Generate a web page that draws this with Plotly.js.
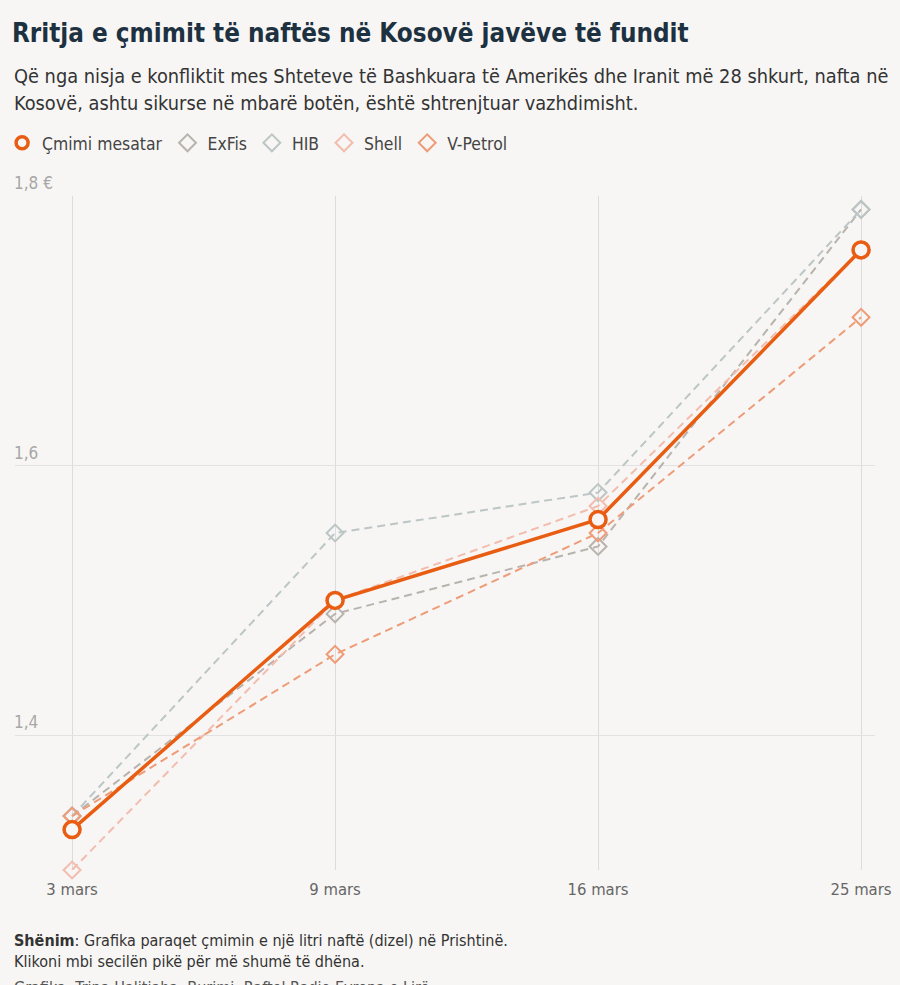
<!DOCTYPE html>
<html>
<head>
<meta charset="utf-8">
<script src="https://cdn.plot.ly/plotly-3.0.1.min.js"></script>
<style>
html,body{margin:0;padding:0;background:#f7f6f4;}
#chart{width:900px;height:985px;}
</style>
</head>
<body>
<div id="chart"></div>
<script>
const dates = ["3 mars", "9 mars", "16 mars", "25 mars"];
const avgPrice = [1.33, 1.50, 1.56, 1.76];
const exfis = [1.34, 1.49, 1.54, 1.79];
const hib = [1.34, 1.55, 1.58, 1.79];
const shell = [1.30, 1.50, 1.57, 1.76];
const vpetrol = [1.34, 1.46, 1.55, 1.71];
const yTickVals = [1.4, 1.6, 1.8];
const yTickLabels = ["1,4", "1,6", "1,8 €"];

const FONT = "'DejaVu Sans Condensed', 'Liberation Sans Narrow', 'Roboto', sans-serif";
const BG = "#f7f6f4";
const AVG = "#e85d12";

const series = [
  {name: "ExFis", y: exfis, color: "#b9b3ad"},
  {name: "HIB", y: hib, color: "#bcc6c6"},
  {name: "Shell", y: shell, color: "#f2bcae"},
  {name: "V-Petrol", y: vpetrol, color: "#ee9c78"}
];

const traces = [];
series.forEach(s => {
  traces.push({
    x: dates, y: s.y, name: s.name, type: "scatter", mode: "lines+markers",
    line: {color: s.color, width: 2, dash: "8px,5px"},
    marker: {symbol: "diamond-open", size: 13, color: s.color, line: {width: 2, color: s.color}},
    cliponaxis: false, showlegend: false
  });
});
traces.push({
  x: dates, y: avgPrice, name: "Çmimi mesatar", type: "scatter", mode: "lines+markers",
  line: {color: AVG, width: 3.5},
  marker: {symbol: "circle", size: 16, color: BG, line: {width: 3.5, color: AVG}},
  cliponaxis: false, showlegend: false
});
// legend entries (markers only, like the reference legend)
traces.push({
  x: [null], y: [null], name: "Çmimi mesatar", type: "scatter", mode: "markers",
  marker: {symbol: "circle", size: 12, color: BG, line: {width: 3.5, color: AVG}},
  showlegend: true, legendrank: 1
});
series.forEach((s, i) => {
  traces.push({
    x: [null], y: [null], name: s.name, type: "scatter", mode: "markers",
    marker: {symbol: "diamond-open", size: 13, color: s.color, line: {width: 2, color: s.color}},
    showlegend: true, legendrank: i + 2
  });
});

const annotations = [];
yTickVals.forEach((v, i) => {
  annotations.push({
    xref: "paper", yref: "y", x: -0.004, y: v, yshift: 13,
    text: yTickLabels[i], showarrow: false, xanchor: "left", yanchor: "middle",
    font: {family: FONT, size: 17, color: "#a7a7a7"}
  });
});
const sub = [
  {t: "Që nga nisja e konfliktit mes Shteteve të Bashkuara të Amerikës dhe Iranit më 28 shkurt, nafta në", y: 77, s: 19.8, c: "#333"},
  {t: "Kosovë, ashtu sikurse në mbarë botën, është shtrenjtuar vazhdimisht.", y: 103, s: 19.8, c: "#333"},
  {t: "<b>Shënim</b>: Grafika paraqet çmimin e një litri naftë (dizel) në Prishtinë.", y: 940, s: 16, c: "#333"},
  {t: "Klikoni mbi secilën pikë për më shumë të dhëna.", y: 961, s: 16, c: "#333"},
  {t: "Grafika: Trina Halitjaha, Burimi: Raftel Radio Evropa e Lirë", y: 987, s: 16, c: "#555"}
];
sub.forEach(o => {
  annotations.push({
    xref: "paper", yref: "paper", x: -0.0035,
    y: (870 - o.y) / 674, xanchor: "left", yanchor: "middle",
    text: o.t, showarrow: false,
    font: {family: FONT, size: o.s, color: o.c}
  });
});

const layout = {
  width: 900, height: 985,
  paper_bgcolor: BG, plot_bgcolor: BG,
  margin: {l: 15, r: 25, t: 196, b: 115, autoexpand: false},
  font: {family: FONT, color: "#444"},
  title: {
    text: "<b>Rritja e çmimit të naftës në Kosovë javëve të fundit</b>",
    xref: "container", yref: "container", x: 12/900, xanchor: "left",
    y: 1 - 33/985, yanchor: "middle",
    font: {family: FONT, size: 25.8, color: "#1d3141"}
  },
  showlegend: true,
  legend: {
    orientation: "h", x: -0.015, xanchor: "left", y: (870 - 143) / 674, yanchor: "middle",
    font: {family: FONT, size: 17.4, color: "#444"},
    traceorder: "normal", itemwidth: 30, bgcolor: "rgba(0,0,0,0)"
  },
  xaxis: {
    type: "category", categoryorder: "array", categoryarray: dates,
    range: [-0.217, 3.053],
    showgrid: true, gridcolor: "#dcdcdc", gridwidth: 1,
    zeroline: false, showline: false, ticks: "",
    ticklabelstandoff: 7,
    tickfont: {family: FONT, size: 16.5, color: "#666"},
    fixedrange: true
  },
  yaxis: {
    range: [1.3, 1.8],
    tickvals: yTickVals, showticklabels: false,
    showgrid: true, gridcolor: "#e2e2e2", gridwidth: 1,
    zeroline: false, showline: false, ticks: "",
    fixedrange: true
  },
  annotations: annotations
};

Plotly.newPlot("chart", traces, layout, {displayModeBar: false});
</script>
</body>
</html>
